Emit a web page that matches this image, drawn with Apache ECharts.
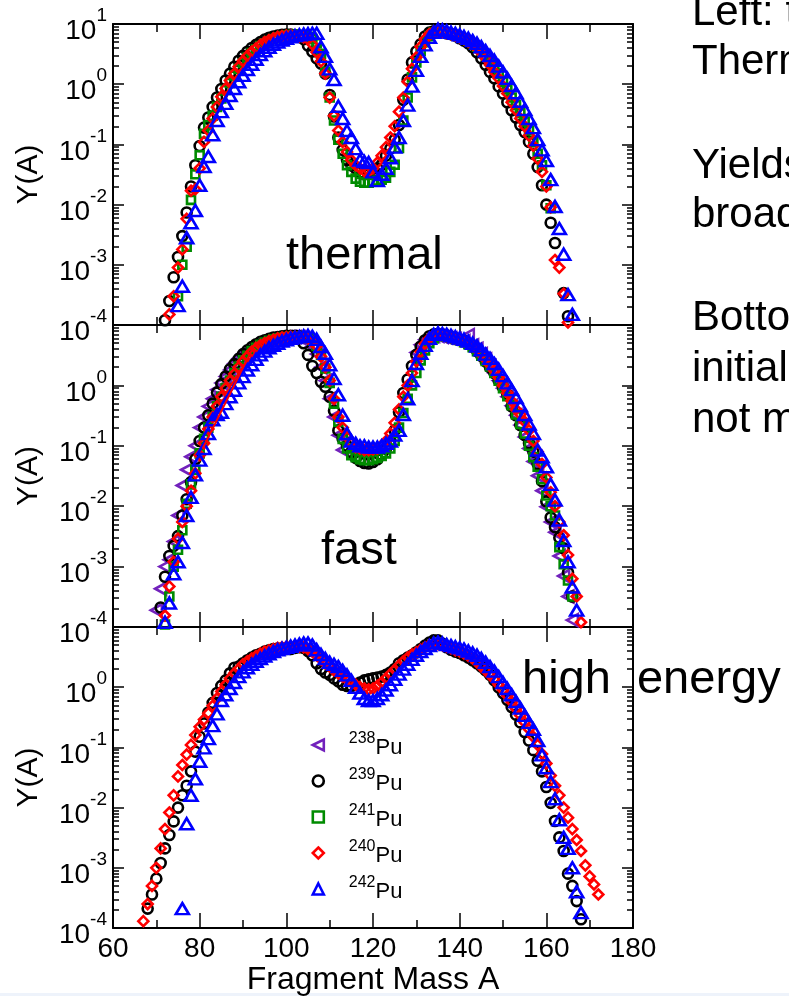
<!DOCTYPE html>
<html>
<head>
<meta charset="utf-8">
<title>Pu fragment mass yields</title>
<script src="https://cdn.jsdelivr.net/npm/echarts@6/dist/echarts.min.js"></script>
<style>
  html, body { margin: 0; padding: 0; background: #ffffff; }
  #chart { width: 789px; height: 996px; }
</style>
</head>
<body>
<div id="chart"></div>
<script>
const FONT = '"Liberation Sans", Arial, Helvetica, sans-serif';

// Fragment-mass axis and its labelled ticks
const massTicks = [60, 80, 100, 120, 140, 160, 180];
// Yield axis decades
const yieldDecades = [1e-4, 1e-3, 1e-2, 1e-1, 1, 10];

// Legend order of the isotopes
const isotopeOrder = ['238Pu', '239Pu', '241Pu', '240Pu', '242Pu'];

// ---------- thermal neutrons: Y(A), consecutive masses from the *From value ----------
const thermalPu239From = 72;
const thermalPu239 = [
  1.2e-4, 2.5e-4, 6.2e-4, 1.35e-3, 3.0e-3, 7.4e-3, 0.020, 0.045, 0.094, 0.19,
  0.28, 0.42, 0.60, 0.83, 1.15, 1.5, 1.95, 2.45, 2.95, 3.45,
  4.0, 4.5, 5.0, 5.5, 5.9, 6.2, 6.4, 6.6, 6.7, 6.7,
  6.5, 6.2, 5.6, 4.4, 3.5, 2.7, 2.2, 1.5, 0.66, 0.29,
  0.13, 0.081, 0.055, 0.045, 0.040, 0.034, 0.032, 0.033, 0.035, 0.040,
  0.046, 0.065, 0.085, 0.12, 0.21, 0.55, 1.2, 2.3, 3.5, 4.6,
  6.2, 7.2, 7.6, 7.6, 7.3, 7.0, 6.8, 6.4, 5.8, 5.3,
  4.8, 4.1, 3.4, 2.7, 2.1, 1.6, 1.25, 0.92, 0.70, 0.50,
  0.37, 0.28, 0.21, 0.16, 0.11, 0.070, 0.042, 0.021, 0.010, 5.0e-3,
  2.3e-3, '-', 3.4e-4, 1.4e-4
];
const thermalPu241From = 75;
const thermalPu241 = [
  3.0e-4, 1.0e-3, 2.0e-3, 0.012, 0.032, 0.066, 0.15, 0.21, 0.30, 0.42,
  0.58, 0.80, 1.05, 1.4, 1.8, 2.25, 2.75, 3.3, 3.8, 4.3,
  4.8, 5.2, 5.6, 6.0, 6.3, 6.5, 6.6, 6.6, 6.6, 6.4,
  6.1, 5.6, 4.8, 3.2, 1.6, 0.60, 0.25, 0.12, 0.070, 0.045,
  0.035, 0.027, 0.024, 0.023, 0.023, 0.024, 0.025, 0.026, 0.028, 0.035,
  0.046, 0.087, 0.25, 0.60, 1.3, 2.3, 3.6, 5.0, 6.3, 7.2,
  7.6, 7.5, 7.2, 6.9, 6.5, 6.1, 5.7, 5.3, 4.8, 4.2,
  3.6, 3.0, 2.4, 1.9, 1.5, 1.1, 0.82, 0.60, 0.45, 0.33,
  0.24, 0.17, 0.11, 0.070, 0.045, 0.021, 8.7e-3
];
const thermalPu240From = 73;
const thermalPu240 = [
  1.5e-4, 3.0e-4, 9.0e-4, 1.8e-3, 5.8e-3, 0.017, 0.018, 0.040, 0.11, 0.17,
  0.27, 0.42, 0.62, 0.85, 1.15, 1.5, 1.95, 2.45, 2.95, 3.45,
  3.95, 4.5, 5.0, 5.4, 5.8, 6.1, 6.3, 6.4, 6.5, 6.4,
  6.2, 6.0, 5.6, 4.6, 3.4, 2.4, 1.5, 0.60, 0.30, 0.17,
  0.11, 0.075, 0.055, 0.045, 0.040, 0.036, 0.036, 0.040, 0.050, 0.065,
  0.090, 0.13, 0.20, 0.35, 0.60, 1.1, 1.8, 2.8, 4.2, 5.6,
  6.8, 7.4, 7.6, 7.4, 7.1, 6.8, 6.4, 6.0, 5.6, 5.1,
  4.6, 4.0, 3.3, 2.7, 2.1, 1.6, 1.25, 0.93, 0.70, 0.50,
  0.37, 0.27, 0.20, 0.14, 0.095, 0.058, 0.035, 0.020, 9.0e-3, 1.2e-3,
  9.0e-4, 3.3e-4, 1.1e-4
];
const thermalPu242From = 75;
const thermalPu242 = [
  2.1e-4, 4.4e-4, 2.8e-3, 5.0e-3, 8.0e-3, 0.021, 0.043, 0.063, 0.145, 0.25,
  0.35, 0.48, 0.65, 0.85, 1.1, 1.4, 1.75, 2.15, 2.6, 3.1,
  3.6, 4.1, 4.6, 5.0, 5.4, 5.8, 6.1, 6.4, 6.6, 6.8,
  6.9, 7.0, 7.0, 4.2, 2.9, 1.8, 1.2, 0.43, 0.27, 0.17,
  0.13, 0.085, 0.055, 0.052, 0.050, 0.035, 0.025, 0.032, 0.040, 0.060,
  0.090, 0.13, 0.25, 0.45, 0.93, 1.7, 2.9, 4.5, 6.0, 7.3,
  8.2, 8.0, 7.7, 7.3, 7.0, 6.6, 6.2, 5.8, 5.3, 4.8,
  4.2, 3.6, 3.0, 2.5, 2.0, 1.6, 1.25, 0.95, 0.72, 0.52,
  0.38, 0.27, 0.19, 0.12, 0.081, 0.054, 0.026, 9.3e-3, 4.0e-3, 1.5e-3,
  3.2e-4, 1.5e-4
];

// ---------- fast neutrons ----------
const fastPu238From = 70;
const fastPu238 = [
  1.9e-4, 4.3e-4, 1.0e-3, 1.3e-3, 2.6e-3, 7.0e-3, 0.022, 0.040, 0.066, 0.10,
  0.20, 0.30, 0.45, 0.60, 0.85, 1.1, 1.4, 1.8, 2.3, 2.8,
  3.3, 3.7, 4.1, 4.5, 4.8, 5.1, 5.4, 5.6, 5.8, 6.0,
  6.2, 6.3, 6.3, 6.2, 6.0, 5.4, 4.4, 3.3, 2.0, 1.2,
  0.60, 0.30, 0.15, 0.085, '-', '-', '-', '-', '-', '-',
  '-', '-', '-', '-', '-', '-', '-', '-', '-', '-',
  3.5, 4.7, 5.7, 6.3, 6.6, 6.6, 6.4, 6.2, 6.0, 5.8,
  5.6, 5.4, 6.8, 4.6, 4.0, 3.3, 2.7, 2.1, 1.6, 1.2,
  0.90, 0.65, 0.46, 0.32, 0.22, 0.14, 0.090, 0.055, 0.032, 0.018,
  9.8e-3, 5.5e-3, 3.7e-3, 1.5e-3, 7.0e-4, 3.2e-4, 1.3e-4
];
const fastPu239From = 71;
const fastPu239 = [
  2.1e-4, 6.8e-4, 1.5e-3, 2.2e-3, 3.2e-3, 7.0e-3, 0.013, 0.025, 0.060, 0.12,
  0.20, 0.32, 0.50, 0.76, 1.05, 1.4, 1.85, 2.25, 2.75, 3.3,
  3.8, 4.3, 4.8, 5.25, 5.6, 5.9, 6.2, 6.3, 6.5, 6.6,
  6.6, 6.6, 6.5, 5.0, 3.2, 2.1, 1.6, 1.15, 0.95, 0.65,
  0.38, 0.18, 0.13, 0.10, 0.079, 0.063, 0.056, 0.052, 0.051, 0.054,
  0.060, 0.071, 0.089, 0.12, 0.18, 0.36, 0.75, 1.25, 2.1, 3.2,
  4.4, 5.6, 6.5, 7.0, 7.1, 6.9, 6.6, 6.3, 6.0, 5.7,
  5.4, 4.9, 4.4, 3.7, 3.1, 2.5, 2.0, 1.6, 1.2, 0.93,
  0.71, 0.45, 0.32, 0.22, 0.15, 0.11, 0.080, 0.050, 0.026, 0.012,
  6.5e-3, 4.5e-3, 3.0e-3, 2.0e-3, 8.0e-4, 3.2e-4
];
const fastPu241From = 72;
const fastPu241 = [
  1.1e-4, 3.2e-4, 1.0e-3, 1.9e-3, 4.0e-3, 0.011, 0.023, 0.040, 0.075, 0.13,
  0.20, 0.30, 0.45, 0.65, 0.90, 1.2, 1.6, 2.05, 2.6, 3.1,
  3.7, 4.2, 4.7, 5.1, 5.5, 5.8, 6.0, 6.2, 6.3, 6.4,
  6.4, 6.4, 6.3, 6.1, 5.6, 4.5, 3.2, 1.9, 1.1, 0.50,
  0.25, 0.13, 0.090, 0.070, 0.065, 0.060, 0.058, 0.058, 0.060, 0.063,
  0.068, 0.075, 0.090, 0.12, 0.20, 0.35, 0.60, 1.0, 1.6, 2.6,
  3.8, 5.0, 6.0, 6.6, 6.7, 6.5, 6.2, 5.9, 5.6, 5.2,
  4.8, 4.3, 3.7, 3.1, 2.55, 2.05, 1.6, 1.2, 0.90, 0.66,
  0.47, 0.33, 0.23, 0.16, 0.10, 0.065, 0.045, 0.028, 0.015, 0.010,
  7.0e-3, 2.1e-3, 1.1e-3, 5.9e-4, 3.2e-4
];
const fastPu240From = 72;
const fastPu240 = [
  1.55e-4, 4.7e-4, 1.2e-3, 2.9e-3, 5.5e-3, 0.010, 0.018, 0.035, 0.070, 0.11,
  0.19, 0.30, 0.45, 0.65, 0.90, 1.2, 1.55, 2.0, 2.5, 3.0,
  3.6, 4.1, 4.6, 5.0, 5.4, 5.7, 6.0, 6.2, 6.3, 6.4,
  6.4, 6.4, 6.3, 6.0, 5.3, 4.5, 3.0, 2.0, 1.2, 0.60,
  0.30, 0.20, 0.14, 0.11, 0.095, 0.090, 0.085, 0.085, 0.087, 0.090,
  0.10, 0.12, 0.16, 0.24, 0.40, 0.65, 1.0, 1.6, 2.5, 3.6,
  4.9, 6.0, 6.8, 7.0, 6.9, 6.6, 6.3, 6.0, 5.7, 5.4,
  5.0, 4.5, 3.9, 3.3, 2.7, 2.2, 1.75, 1.35, 1.0, 0.75,
  0.55, 0.40, 0.33, 0.25, 0.18, 0.12, 0.080, 0.050, 0.030, 0.017,
  0.010, 5.5e-3, 3.3e-3, 1.55e-3, 6.3e-4, 3.2e-4, 1.2e-4
];
// straight guide through the 240Pu rising edge (mass, yield)
const fastPu240Guide = [[80.7, 0.09], [93, 5.3]];
const fastPu242From = 72;
const fastPu242 = [
  1.2e-4, 2.5e-4, 7.6e-4, 1.2e-3, 2.5e-3, 7.0e-3, 0.014, 0.033, 0.058, 0.090,
  0.16, 0.27, 0.33, 0.36, 0.50, 0.65, 0.83, 1.1, 1.4, 1.8,
  2.2, 2.7, 3.2, 3.7, 4.2, 4.6, 5.0, 5.4, 5.7, 6.0,
  6.2, 6.4, 6.6, 6.7, 6.5, 5.8, 4.4, 3.4, 2.2, 1.3,
  0.70, 0.32, 0.16, 0.12, 0.11, 0.10, 0.10, 0.095, 0.095, 0.095,
  0.10, 0.11, 0.12, 0.15, 0.18, 0.33, 0.60, 1.2, 2.3, 3.4,
  4.6, 6.0, 7.0, 7.4, 7.2, 7.0, 6.7, 6.4, 6.1, 5.8,
  5.4, 5.0, 4.5, 3.9, 3.3, 2.8, 2.3, 1.85, 1.45, 1.1,
  0.85, 0.63, 0.46, 0.33, 0.23, 0.16, 0.085, 0.066, 0.045, 0.023,
  0.0126, 5.9e-3, 2.7e-3, 1.2e-3, 4.6e-4, 1.9e-4
];

// ---------- high-energy neutrons ----------
const hePu239From = 68;
const hePu239 = [
  2.1e-4, 3.6e-4, 6.6e-4, 1.2e-3, 2.1e-3, 3.5e-3, 5.9e-3, 0.010, 0.016, 0.023,
  0.040, 0.085, 0.15, 0.25, 0.38, 0.55, 0.80, 1.05, 1.3, 1.7,
  2.1, 2.2, 2.5, 2.8, 3.1, 3.4, 3.6, 3.9, 4.1, 4.3,
  4.4, 4.4, 4.3, 4.3, 4.5, 4.6, 4.5, 4.0, 3.4, 2.5,
  2.0, 1.75, 1.6, 1.4, 1.25, 1.1, 1.05, 1.05, 1.1, 1.2,
  1.3, 1.35, 1.4, 1.45, 1.5, 1.6, 1.75, 2.0, 2.5, 2.8,
  3.1, 3.4, 3.8, 4.3, 4.9, 5.5, 6.0, 6.0, 5.3, 4.6,
  4.2, 3.9, 3.7, 3.4, 3.1, 2.8, 2.5, 2.2, 1.9, 1.6,
  1.3, 1.0, 0.80, 0.62, 0.47, 0.35, 0.26, 0.18, 0.13, 0.090,
  0.060, 0.040, 0.022, 0.012, 6.0e-3, 3.2e-3, 1.9e-3, 8.0e-4, 5.0e-4, 2.8e-4,
  1.4e-4
];
const hePu240From = 67;
const hePu240 = [
  1.3e-4, 2.5e-4, 5.0e-4, 1.0e-3, 2.1e-3, 4.4e-3, 8.3e-3, 0.016, 0.033, 0.051,
  0.076, 0.11, 0.16, 0.22, 0.29, 0.37, 0.49, 0.65, 0.85, 1.1,
  1.4, 1.7, 2.0, 2.4, 2.7, 3.0, 3.3, 3.6, 3.9, 4.1,
  4.3, 4.5, 4.6, 4.7, 4.8, 4.8, 4.7, 4.6, 4.3, 3.9,
  3.4, 2.9, 2.5, 2.2, 1.9, 1.7, 1.5, 1.35, 1.2, 1.1,
  1.0, 0.95, 0.92, 0.95, 1.05, 1.2, 1.4, 1.65, 1.95, 2.3,
  2.7, 3.1, 3.5, 3.8, 4.2, 4.6, 5.0, 5.2, 5.2, 5.0,
  4.7, 4.4, 4.1, 3.9, 3.6, 3.3, 3.0, 2.6, 2.2, 1.9,
  1.6, 1.35, 1.1, 0.90, 0.72, 0.57, 0.44, 0.34, 0.26, 0.20,
  0.15, 0.11, 0.078, 0.054, 0.034, 0.023, 0.016, 0.010, 6.8e-3, 4.4e-3,
  2.9e-3, 1.9e-3, 1.1e-3, 7.2e-4, 5.3e-4, 3.6e-4
];
const hePu242From = 76;
const hePu242 = [
  2.1e-4, 5.4e-3, 0.016, 0.030, 0.059, 0.098, 0.14, 0.23, 0.36, 0.60,
  0.75, 0.95, 1.2, 1.5, 1.8, 2.1, 2.4, 2.7, 3.0, 3.3,
  3.6, 3.9, 4.2, 4.4, 4.6, 4.8, 5.0, 5.2, 5.4, 5.4,
  5.0, 4.2, 3.5, 3.0, 2.6, 2.4, 2.2, 1.9, 1.6, 1.3,
  1.0, 0.80, 0.65, 0.60, 0.60, 0.65, 0.75, 0.90, 1.1, 1.35,
  1.65, 2.0, 2.4, 2.9, 3.4, 3.9, 4.4, 4.9, 5.4, 5.6,
  5.4, 5.1, 4.9, 4.7, 4.5, 4.3, 4.0, 3.7, 3.4, 3.0,
  2.6, 2.2, 1.85, 1.5, 1.2, 0.95, 0.75, 0.58, 0.45, 0.34,
  0.26, 0.20, 0.13, 0.075, 0.046, 0.027, 0.014, 6.3e-3, 3.2e-3, 2.1e-3,
  1.0e-3, 4.0e-4, 1.8e-4
];

// Marker look per isotope (open symbols, xmgrace-like colours)
const isotopeStyle = {
  '238Pu': { symbol: 'path://M0,5L10,0L10,10Z', symbolSize: [11, 12], color: '#7221bc' },
  '239Pu': { symbol: 'circle', symbolSize: 10, color: '#000000' },
  '241Pu': { symbol: 'rect', symbolSize: 8, color: '#008b00' },
  '240Pu': { symbol: 'diamond', symbolSize: [10, 10], color: '#ff0000' },
  '242Pu': { symbol: 'triangle', symbolSize: [13, 11], color: '#0000ff' }
};

// Three stacked panels sharing the mass axis
const panels = [
  { top: 24, height: 301, sets: [
      ['239Pu', thermalPu239From, thermalPu239],
      ['241Pu', thermalPu241From, thermalPu241],
      ['240Pu', thermalPu240From, thermalPu240],
      ['242Pu', thermalPu242From, thermalPu242]] },
  { top: 325, height: 302, sets: [
      ['238Pu', fastPu238From, fastPu238],
      ['239Pu', fastPu239From, fastPu239],
      ['241Pu', fastPu241From, fastPu241],
      ['240Pu', fastPu240From, fastPu240],
      ['242Pu', fastPu242From, fastPu242]] },
  { top: 627, height: 301, sets: [
      ['239Pu', hePu239From, hePu239],
      ['240Pu', hePu240From, hePu240],
      ['242Pu', hePu242From, hePu242]] }
];

function toPoints(from, values) {
  return values.map((v, i) => [from + i, v]);
}

// unlabelled log ticks at 2..9 of every decade
const minorYieldTicks = [];
yieldDecades.slice(0, -1).forEach(d => {
  for (let m = 2; m <= 9; m++) minorYieldTicks.push(Number((m * d).toPrecision(3)));
});

const AXIS_LINE = { show: true, onZero: false, lineStyle: { color: '#000', width: 2 } };
const TICK_STYLE = { color: '#000', width: 1.5 };

const grids = [], xAxes = [], yAxes = [], series = [];

panels.forEach((p, pi) => {
  const last = pi === panels.length - 1;
  grids.push({ left: 113, width: 520, top: p.top, height: p.height, outerBoundsMode: 'none', containLabel: false });

  ['bottom', 'top'].forEach(pos => {
    const labelled = last && pos === 'bottom';
    xAxes.push({
      type: 'value', gridIndex: pi, position: pos,
      min: massTicks[0], max: massTicks[massTicks.length - 1],
      interval: massTicks[1] - massTicks[0],
      axisLine: AXIS_LINE,
      axisTick: { show: true, inside: true, length: 15, lineStyle: TICK_STYLE },
      minorTick: { show: true, splitNumber: 2, length: 8, lineStyle: TICK_STYLE },
      splitLine: { show: false }, minorSplitLine: { show: false },
      axisLabel: { show: labelled, color: '#000', fontSize: 28, fontFamily: FONT, margin: 7 },
      name: labelled ? 'Fragment Mass A' : '',
      nameLocation: 'middle', nameGap: 34,
      nameTextStyle: { color: '#000', fontSize: 32, fontFamily: FONT }
    });
  });

  ['left', 'right'].forEach(pos => {
    const labelled = pos === 'left';
    yAxes.push({
      type: 'log', logBase: 10, gridIndex: pi, position: pos,
      min: yieldDecades[0], max: yieldDecades[yieldDecades.length - 1],
      axisLine: AXIS_LINE,
      axisTick: { show: true, inside: true, length: 11, lineStyle: TICK_STYLE },
      splitLine: { show: false },
      axisLabel: {
        show: labelled, showMaxLabel: pi === 0, margin: 6,
        formatter: v => '{b|10}{s|' + Math.round(Math.log10(v)) + '}',
        rich: {
          b: { fontSize: 28, fontFamily: FONT, color: '#000', verticalAlign: 'bottom' },
          s: { fontSize: 19, fontFamily: FONT, color: '#000', verticalAlign: 'top', padding: [4, 0, 20, 0] }
        }
      },
      name: labelled ? 'Y(A)' : '',
      nameLocation: 'middle', nameGap: 69, nameRotate: 90,
      nameTextStyle: { color: '#000', fontSize: 30, fontFamily: FONT }
    });
    yAxes.push({
      type: 'log', logBase: 10, gridIndex: pi, position: pos,
      min: yieldDecades[0], max: yieldDecades[yieldDecades.length - 1],
      axisLine: { show: false },
      axisTick: { show: true, inside: true, length: 6, customValues: minorYieldTicks, lineStyle: TICK_STYLE },
      axisLabel: { show: false },
      splitLine: { show: false }
    });
  });

  p.sets.forEach(([name, from, values]) => {
    const st = isotopeStyle[name];
    series.push({
      type: 'scatter', name,
      xAxisIndex: pi * 2, yAxisIndex: pi * 4,
      symbol: st.symbol, symbolSize: st.symbolSize,
      itemStyle: { color: 'transparent', borderColor: st.color, borderWidth: 2.6, opacity: 1 },
      data: toPoints(from, values),
      silent: true
    });
    if (pi === 1 && name === '240Pu') {
      series.push({
        type: 'line', name: '240Pu guide',
        xAxisIndex: pi * 2, yAxisIndex: pi * 4,
        showSymbol: false, symbol: 'none',
        lineStyle: { color: '#ff0000', width: 2, opacity: 1 },
        data: fastPu240Guide, silent: true
      });
    }
  });
});

function label(text, x, baseline, size) {
  return {
    type: 'text', x, y: baseline - 0.35 * size, silent: true,
    style: { text, fill: '#000', fontSize: size, fontFamily: FONT,
             align: 'left', verticalAlign: 'middle' }
  };
}

const option = {
  animation: false,
  backgroundColor: '#ffffff',
  grid: grids,
  xAxis: xAxes,
  yAxis: yAxes,
  legend: {
    data: isotopeOrder,
    orient: 'vertical', left: 306.5, top: 726,
    itemWidth: 11, itemHeight: 11, itemGap: 8,
    selectedMode: false,
    itemStyle: { borderWidth: 2.6, opacity: 1 },
    formatter: name => '{g| }{s|' + name.slice(0, 3) + '}{b|Pu}',
    textStyle: {
      color: '#000', fontFamily: FONT,
      rich: {
        g: { width: 20, fontSize: 16 },
        s: { fontSize: 16, fontFamily: FONT, color: '#000', verticalAlign: 'top', padding: [0, 0, 12, 0] },
        b: { fontSize: 22, fontFamily: FONT, color: '#000', verticalAlign: 'bottom' }
      }
    }
  },
  series,
  graphic: [
    { type: 'rect', shape: { x: 0, y: 993, width: 789, height: 3 }, style: { fill: '#eef3fb' }, silent: true },
    label('thermal', 286, 272, 47),
    label('fast', 321, 567, 47),
    label('high  energy', 522, 696, 47),
    label('Left: the', 692, 28, 42),
    label('Thermal', 692, 77, 42),
    label('Yields', 692, 181, 42),
    label('broaden', 692, 230, 42),
    label('Bottom', 692, 333, 42),
    label('initial', 692, 384, 42),
    label('not much', 692, 435, 42)
  ]
};

const chart = echarts.init(document.getElementById('chart'), null, { renderer: 'canvas' });
chart.setOption(option);
</script>
</body>
</html>
